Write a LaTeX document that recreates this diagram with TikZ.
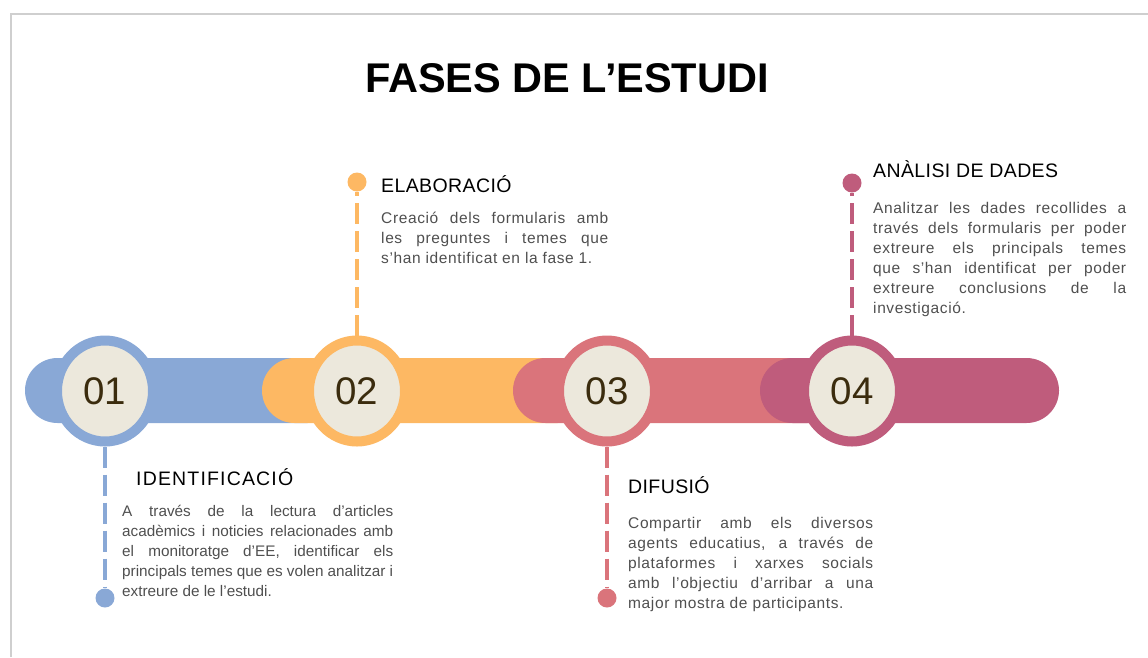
\documentclass[tikz,border=0pt]{standalone}
\usepackage{fontspec}
\setmainfont{Liberation Sans}
\newfontfamily\headfont[LetterSpace=2]{Liberation Sans}
\newfontfamily\bodyfont[LetterSpace=4]{Liberation Sans}
\usepackage{tikz}
\usetikzlibrary{shapes.geometric}
\definecolor{phaseA}{HTML}{89A8D6}
\definecolor{phaseB}{HTML}{FDB863}
\definecolor{phaseC}{HTML}{DA747B}
\definecolor{phaseD}{HTML}{BF5C7C}
\definecolor{ringfill}{HTML}{ECE8DC}
\definecolor{numtext}{HTML}{3B2C0E}
\definecolor{bodytext}{HTML}{4F4F4F}
\definecolor{framegray}{HTML}{CFCFCF}
\tikzset{phase bar/.style={
        fill=#1, rounded corners=32.5pt,
    },
    phase ring/.style={
        ellipse, draw=#1, fill=ringfill, line width=10pt,
        minimum width=96pt, minimum height=101pt, inner sep=0pt,
        text=numtext, font=\fontsize{38.5}{40}\selectfont,
    },
    phase dot/.style={
        circle, fill=#1, minimum size=19pt, inner sep=0pt,
    },
    phase link/.style={
        draw=#1, line width=4.5pt, dash pattern=on 21pt off 7pt,
    },
    phase title/.style={
        anchor=base west, inner sep=0pt, text=black,
        font=\headfont\fontsize{19.5}{22}\selectfont,
    },
    phase text/.style={
        anchor=north west, inner sep=0pt, text width=#1, align=justify,
        text=bodytext, font=\bodyfont\fontsize{15.5}{20}\selectfont,
    },
}
\begin{document}
\begin{tikzpicture}[x=1pt, y=-1pt]
    \useasboundingbox (0,0) rectangle (1148,657);
    \draw [framegray, line width=2pt] (11,657) -- (11,14) -- (1148,14);
    \node [anchor=base, inner sep=0pt, font=\bfseries\fontsize{41.5}{45}\selectfont] (title) at (567,92) {FASES DE L’ESTUDI};

    %% the bars and the numbered rings, left to right
        \fill [phase bar=phaseA] (25,358) rectangle (340,423);
        \node [phase ring=phaseA] (N1) at (105,391) {01};
        \fill [phase bar=phaseB] (262,358) rectangle (590,423);
        \node [phase ring=phaseB] (N2) at (357,391) {02};
        \fill [phase bar=phaseC] (513,358) rectangle (840,423);
        \node [phase ring=phaseC] (N3) at (607,391) {03};
        \fill [phase bar=phaseD] (760,358) rectangle (1059,423);
        \node [phase ring=phaseD] (N4) at (852,391) {04};

    %% the dots and the dashed links
        \node [phase dot=phaseA] (D1) at (105,598) {};
        \node [phase dot=phaseB] (D2) at (357,182) {};
        \node [phase dot=phaseC] (D3) at (607,598) {};
        \node [phase dot=phaseD] (D4) at (852,183) {};
        \draw [phase link=phaseA] (N1) -- (D1);
        \draw [phase link=phaseB] (N2) -- (D2);
        \draw [phase link=phaseC] (N3) -- (D3);
        \draw [phase link=phaseD] (N4) -- (D4);

    %% the texts
        \node [phase title] (T1) at (136,485) {\addfontfeature{LetterSpace=6}IDENTIFICACIÓ};
        \node [phase text=271pt, font=\fontsize{15.3}{20}\selectfont] (B1) at (122,505)
            {A través de la lectura d’articles\linebreak acadèmics i noticies relacionades amb\linebreak el monitoratge d’EE, identificar els\linebreak principals temes que es volen analitzar i\linebreak extreure de le l’estudi.};
        \node [phase title] (T2) at (381,192) {ELABORACIÓ};
        \node [phase text=227pt] (B2) at (381,212)
            {Creació dels formularis amb\linebreak les preguntes i temes que\linebreak s’han identificat en la fase 1.};
        \node [phase title] (T3) at (628,493) {DIFUSIÓ};
        \node [phase text=245pt] (B3) at (628,517)
            {Compartir amb els diversos\linebreak agents educatius, a través de\linebreak plataformes i xarxes socials\linebreak amb l’objectiu d’arribar a una\linebreak major mostra de participants.};
        \node [phase title] (T4) at (873,177) {ANÀLISI DE DADES};
        \node [phase text=253pt] (B4) at (873,202)
            {Analitzar les dades recollides a\linebreak través dels formularis per poder\linebreak extreure els principals temes\linebreak que s’han identificat per poder\linebreak extreure conclusions de la\linebreak investigació.};
\end{tikzpicture}
\end{document}
